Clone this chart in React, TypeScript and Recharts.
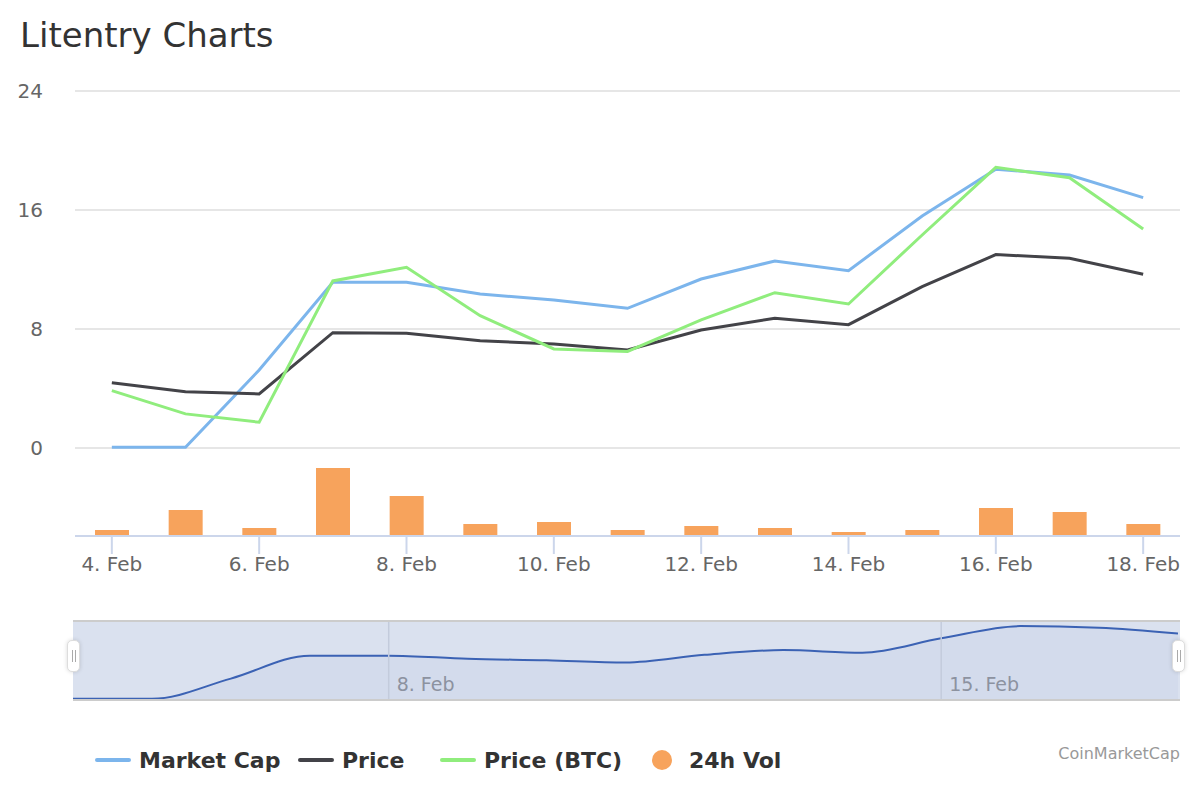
import { ComposedChart, AreaChart, Area, Bar, Line, XAxis, YAxis, CartesianGrid, ReferenceLine } from "recharts";

const days = ["4. Feb", "5. Feb", "6. Feb", "7. Feb", "8. Feb", "9. Feb", "10. Feb", "11. Feb", "12. Feb", "13. Feb", "14. Feb", "15. Feb", "16. Feb", "17. Feb", "18. Feb"];
const marketCap = [0.05, 0.05, 5.24, 11.14, 11.14, 10.35, 9.95, 9.39, 11.36, 12.57, 11.92, 15.6, 18.74, 18.35, 16.83];
const price = [4.39, 3.78, 3.63, 7.75, 7.71, 7.21, 6.99, 6.59, 7.93, 8.72, 8.29, 10.84, 13.0, 12.75, 11.68];
const priceBtc = [3.85, 2.29, 1.73, 11.23, 12.15, 8.89, 6.66, 6.49, 8.61, 10.44, 9.68, 14.32, 18.87, 18.17, 14.72];
const volume = [6, 26, 8, 68, 40, 12, 14, 6, 10, 8, 4, 6, 28, 24, 12];
const yTicks = [0, 8, 16, 24];
const navTicks = [4, 11];

const data = days.map((day, i) => ({
  idx: i,
  day,
  marketCap: marketCap[i],
  price: price[i],
  priceBtc: priceBtc[i],
  volume: volume[i],
}));

const FONT = "'DejaVu Sans', sans-serif";

function LegendItem({ left, color, label, circle }: { left: number; color: string; label: string; circle?: boolean }) {
  return (
    <div style={{ position: "absolute", left, top: 746, height: 28, display: "flex", alignItems: "center" }}>
      {circle ? (
        <div style={{ width: 20, height: 20, borderRadius: 10, background: color, marginRight: 17 }} />
      ) : (
        <div style={{ width: 36, height: 4, borderRadius: 2, background: color, marginRight: 8 }} />
      )}
      <span style={{ fontWeight: "bold", fontSize: 22, color: "#333" }}>{label}</span>
    </div>
  );
}

function Handle({ left }: { left: number }) {
  return (
    <div
      style={{
        position: "absolute",
        left: left - 6,
        top: 640,
        width: 11,
        height: 30,
        background: "#fff",
        border: "1px solid #ddd",
        borderRadius: 5,
        boxShadow: "0 0 4px rgba(0,0,0,0.15)",
        display: "flex",
        justifyContent: "center",
        alignItems: "center",
        gap: 2,
      }}
    >
      <div style={{ width: 1, height: 12, background: "#aaa" }} />
      <div style={{ width: 1, height: 12, background: "#aaa" }} />
    </div>
  );
}

export default function App() {
  return (
    <div style={{ position: "absolute", left: 0, top: 0, width: 1200, height: 800, background: "#fff", fontFamily: FONT }}>
      <div style={{ position: "absolute", left: 20, top: 14, fontSize: 34, lineHeight: "42px", color: "#333" }}>Litentry Charts</div>

      <div style={{ position: "absolute", left: 0, top: 0 }}>
        <ComposedChart width={1200} height={600} data={data} margin={{ top: 91, right: 20, bottom: 0, left: 8 }}>
          <CartesianGrid yAxisId="main" horizontal vertical={false} stroke="#e6e6e6" strokeWidth={2} />
          <XAxis
            dataKey="day"
            interval={1}
            height={64}
            axisLine={{ stroke: "#ccd6eb", strokeWidth: 2 }}
            tickLine={{ stroke: "#ccd6eb", strokeWidth: 2 }}
            tickSize={18}
            tickMargin={3}
            tick={{ fill: "#666", fontSize: 20, fontFamily: FONT }}
          />
          <YAxis
            yAxisId="main"
            width={67}
            domain={[-5.92, 24]}
            ticks={yTicks}
            axisLine={false}
            tickLine={false}
            tickMargin={26}
            tick={{ fill: "#666", fontSize: 20, fontFamily: FONT }}
          />
          <YAxis yAxisId="vol" hide domain={[0, 445]} />
          <Bar yAxisId="vol" dataKey="volume" fill="#f7a35c" barSize={34} isAnimationActive={false} />
          <Line yAxisId="main" type="linear" dataKey="marketCap" stroke="#7cb5ec" strokeWidth={3} dot={false} isAnimationActive={false} />
          <Line yAxisId="main" type="linear" dataKey="price" stroke="#434348" strokeWidth={3} dot={false} isAnimationActive={false} />
          <Line yAxisId="main" type="linear" dataKey="priceBtc" stroke="#90ed7d" strokeWidth={3} dot={false} isAnimationActive={false} />
        </ComposedChart>
      </div>

      <div
        style={{
          position: "absolute",
          left: 73,
          top: 620,
          width: 1107,
          height: 77,
          background: "#dae1ef",
          borderTop: "2px solid #cccccc",
          borderBottom: "2px solid #cccccc",
        }}
      >
        <AreaChart width={1105} height={77} data={data} margin={{ top: 0, right: 0, bottom: 0, left: 0 }}>
          <XAxis dataKey="idx" type="number" domain={[0, 14]} hide />
          <YAxis domain={[0, 19.8]} hide />
          {navTicks.map((t) => (
            <ReferenceLine
              key={t}
              x={t}
              stroke="#c3cbdc"
              strokeWidth={1.5}
              label={{ value: days[t], position: "insideBottomLeft", offset: 8, fill: "#8c92a0", fontSize: 19, fontFamily: FONT }}
            />
          ))}
          <Area
            type="monotone"
            dataKey="marketCap"
            stroke="#3b62b4"
            strokeWidth={2}
            fill="#c9d3e8"
            fillOpacity={0.4}
            isAnimationActive={false}
          />
        </AreaChart>
      </div>
      <Handle left={73} />
      <Handle left={1178} />

      <LegendItem left={95} color="#7cb5ec" label="Market Cap" />
      <LegendItem left={298} color="#434348" label="Price" />
      <LegendItem left={440} color="#90ed7d" label="Price (BTC)" />
      <LegendItem left={652} color="#f7a35c" label="24h Vol" circle />

      <div style={{ position: "absolute", right: 20, top: 744, fontSize: 16, color: "#999" }}>CoinMarketCap</div>
    </div>
  );
}
